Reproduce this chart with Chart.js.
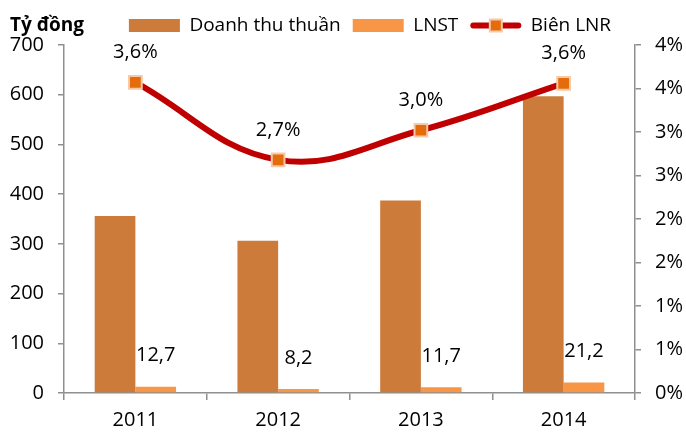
<!DOCTYPE html>
<html>
<head>
<meta charset="utf-8">
<title></title>
<style>
body{margin:0;background:#fff;}
.wrap{width:686px;height:434px;}
</style>
</head>
<body>
<div class="wrap"><canvas id="chart" width="686" height="434"></canvas></div>
<script src="https://cdn.jsdelivr.net/npm/chart.js@4"></script>
<script>
const years = ['2011', '2012', '2013', '2014'];
const doanhThu = [356, 306, 387, 597];
const lnst = [12.7, 8.2, 11.7, 21.2];
const bienLNR = [3.57, 2.68, 3.02, 3.56];

const AXIS = '#8F8F8F';
const FONT = '"Open Sans", sans-serif';
const fmt = v => v.toFixed(1).replace('.', ',');

Chart.defaults.font.family = FONT;
Chart.defaults.font.size = 20;
Chart.defaults.color = '#000';

// chu thich, nhan so lieu, chu "Ty dong"
const extras = {
	id: 'extras',
	afterUpdate(chart){
		const lg = chart.legend;
		lg.left += 27; lg.right += 27;
		lg.legendHitBoxes.forEach(h => { h.left += 27; });
	},
	afterDraw(chart){
		const ctx = chart.ctx;
		const lg = chart.legend;
		const hb = lg.legendHitBoxes;
		const cy = hb[0].top + hb[0].height / 2;
		ctx.save();
		ctx.textBaseline = 'middle';
		ctx.fillStyle = '#000';
		ctx.font = 'bold 19px ' + FONT;
		ctx.textAlign = 'left';
		ctx.fillText('Tỷ đồng', 10, cy);

		// ky hieu duong trong chu thich
		const b = hb[2];
		const bw = lg.options.labels.boxWidth;
		const by = b.top + b.height / 2;
		ctx.strokeStyle = '#C00000';
		ctx.lineWidth = 6;
		ctx.lineCap = 'round';
		ctx.beginPath(); ctx.moveTo(b.left + 3, by); ctx.lineTo(b.left + bw - 3, by); ctx.stroke();
		ctx.fillStyle = '#F8C9A8';
		ctx.fillRect(b.left + bw / 2 - 7, by - 7, 14, 14);
		ctx.fillStyle = '#E46C0A';
		ctx.fillRect(b.left + bw / 2 - 5, by - 5, 10, 10);

		// nhan so lieu
		ctx.fillStyle = '#000';
		ctx.font = '20px ' + FONT;
		ctx.textAlign = 'center';
		chart.getDatasetMeta(1).data.forEach((bar, i) => {
			ctx.fillText(fmt(lnst[i]), bar.x, bar.y - 31);
		});
		chart.getDatasetMeta(2).data.forEach((pt, i) => {
			ctx.fillText(fmt(bienLNR[i]) + '%', pt.x, pt.y - 30);
		});
		ctx.restore();
	}
};

new Chart(document.getElementById('chart'), {
	type: 'bar',
	data: {
		labels: years,
		datasets: [{
			label: 'Doanh thu thuần',
			data: doanhThu,
			backgroundColor: '#CC7B3A',
			yAxisID: 'y',
			order: 1
		}, {
			label: 'LNST',
			data: lnst,
			backgroundColor: '#F79646',
			yAxisID: 'y',
			order: 1
		}, {
			type: 'line',
			label: 'Biên LNR',
			data: bienLNR,
			yAxisID: 'y2',
			borderColor: '#C00000',
			backgroundColor: '#E46C0A',
			borderWidth: 6,
			tension: 0.4,
			pointStyle: 'rect',
			pointRadius: 9,
			pointBorderColor: '#F8C9A8',
			pointBorderWidth: 2,
			pointBackgroundColor: '#E46C0A',
			order: 0
		}]
	},
	options: {
		responsive: false,
		animation: false,
		layout: {padding: {top: 4}},
		plugins: {
			tooltip: {enabled: false},
			legend: {
				position: 'top',
				labels: {
					boxWidth: 51,
					boxHeight: 13,
					padding: 12,
					font: {size: 19},
					color: '#000',
					generateLabels(chart){
						const items = Chart.defaults.plugins.legend.labels.generateLabels(chart);
						items.forEach(it => {
							it.lineWidth = 0;
							if (it.datasetIndex === 2) {
								it.fillStyle = 'rgba(0,0,0,0)';
								it.strokeStyle = 'rgba(0,0,0,0)';
							}
						});
						return items.sort((a, b) => a.datasetIndex - b.datasetIndex);
					}
				}
			}
		},
		datasets: {
			bar: {barPercentage: 1, categoryPercentage: 0.57}
		},
		scales: {
			x: {
				offset: true,
				grid: {offset: true, drawOnChartArea: false, drawTicks: true, tickLength: 7, color: AXIS, lineWidth: 1.5},
				border: {color: AXIS, width: 1.5},
				ticks: {padding: 8},
				afterFit(s){ s.height = 41; }
			},
			y: {
				position: 'left',
				min: 0, max: 700,
				ticks: {stepSize: 100, padding: 14},
				grid: {drawOnChartArea: false, tickLength: 6, color: AXIS, lineWidth: 1.5},
				border: {color: AXIS, width: 1.5},
				afterFit(s){ s.width = 64; }
			},
			y2: {
				position: 'right',
				min: 0, max: 4,
				ticks: {stepSize: 0.5, padding: 14, callback: v => Math.round(v) + '%'},
				grid: {drawOnChartArea: false, tickLength: 6, color: AXIS, lineWidth: 1.5},
				border: {color: AXIS, width: 1.5},
				afterFit(s){ s.width = 51; }
			}
		}
	},
	plugins: [extras]
});
</script>
</body>
</html>
